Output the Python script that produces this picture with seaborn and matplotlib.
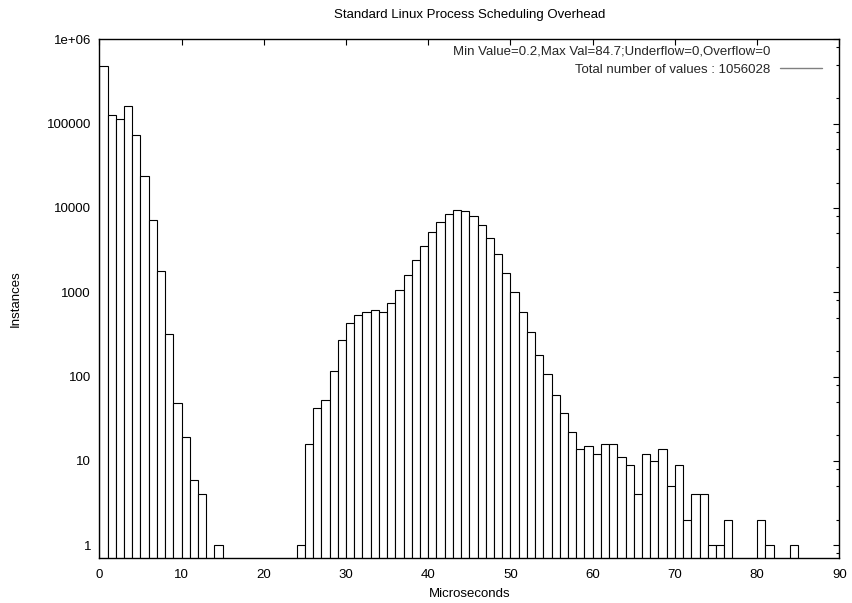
import numpy as np
import pandas as pd
import matplotlib
matplotlib.use("Agg")
import matplotlib.pyplot as plt
import matplotlib.ticker as mticker
from matplotlib.lines import Line2D
import seaborn as sns

# histogram counts, one per 1-microsecond bin starting at 0
bin_start = list(range(0, 85))
counts = [
    480000, 128000, 112000, 163000, 74000, 24000, 7100, 1800, 320, 48,   # 0-9
    19, 6, 4, 0, 1, 0, 0, 0, 0, 0,                                        # 10-19
    0, 0, 0, 0, 1, 16, 42, 52, 115, 275,                                  # 20-29
    430, 540, 580, 610, 590, 740, 1070, 1590, 2390, 3500,                 # 30-39
    5200, 6850, 8500, 9400, 9150, 8000, 6200, 4350, 2850, 1700,           # 40-49
    1000, 580, 340, 180, 107, 60, 37, 22, 14, 15,                         # 50-59
    12, 16, 16, 11, 9, 4, 12, 10, 14, 5,                                  # 60-69
    9, 2, 4, 4, 1, 1, 2, 0, 0, 0,                                         # 70-79
    2, 1, 0, 0, 1,                                                        # 80-84
]
x_ticks = [0, 10, 20, 30, 40, 50, 60, 70, 80, 90]

title = "Standard Linux Process Scheduling Overhead"
key_title = "Min Value=0.2,Max Val=84.7;Underflow=0,Overflow=0"
key_label = "Total number of values : 1056028"

df = pd.DataFrame({"start": bin_start, "count": counts})
df["mid"] = df["start"] + 0.5
edges = list(bin_start) + [bin_start[-1] + 1]

sns.set_theme(style="white")
plt.rcParams["font.family"] = ["Liberation Sans", "DejaVu Sans"]
plt.rcParams["axes.edgecolor"] = "black"
plt.rcParams["axes.linewidth"] = 1.0

fig = plt.figure(figsize=(8.52, 6.03), dpi=100)
ax = fig.add_axes([0.1166, 0.0751, 0.8685, 0.8597])

sns.histplot(data=df, x="mid", weights="count", bins=edges, ax=ax,
             fill=True, color="white", edgecolor="black", linewidth=0.8, alpha=1.0)

ax.set_yscale("log")
ax.set_xlim(0, 90)
ax.set_ylim(0.71, 1e6)
ax.set_xticks(x_ticks)
ax.yaxis.set_major_locator(mticker.LogLocator(base=10, numticks=10))
ax.yaxis.set_minor_locator(mticker.LogLocator(base=10, subs=[2, 5, 8], numticks=10))
ax.yaxis.set_major_formatter(mticker.FuncFormatter(lambda v, p: f"{v:g}"))
ax.yaxis.set_minor_formatter(mticker.NullFormatter())

ax.tick_params(which="both", direction="in", top=True, right=True,
               color="black", labelsize=9.5, labelcolor="black")
ax.tick_params(which="major", length=4.3, width=0.8)
ax.tick_params(which="minor", length=2.3, width=0.8)
ax.tick_params(axis="x", pad=8)
ax.tick_params(axis="y", pad=6)

ax.set_title(title, fontsize=9.5, pad=15, color="black")
ax.set_xlabel("Microseconds", fontsize=9.5, color="black")
ax.set_ylabel("Instances", fontsize=9.5, color="black")
ax.xaxis.set_label_coords(0.5, -0.058)
ax.xaxis.label.set_va("top")
ax.yaxis.set_label_coords(-0.105, 0.5)

handles = [Line2D([], [], color="none"), Line2D([], [], color="#808080", lw=1.0)]
ax.legend(handles, [key_title, key_label], loc="upper right",
          bbox_to_anchor=(0.976, 0.988), frameon=False, markerfirst=False,
          borderpad=0, borderaxespad=0, handlelength=3.16, handletextpad=0.7,
          labelspacing=0.45, fontsize=9.5)

for s in ax.spines.values():
    s.set_visible(True)
    s.set_color("black")

fig.savefig("out.png", dpi=100)
